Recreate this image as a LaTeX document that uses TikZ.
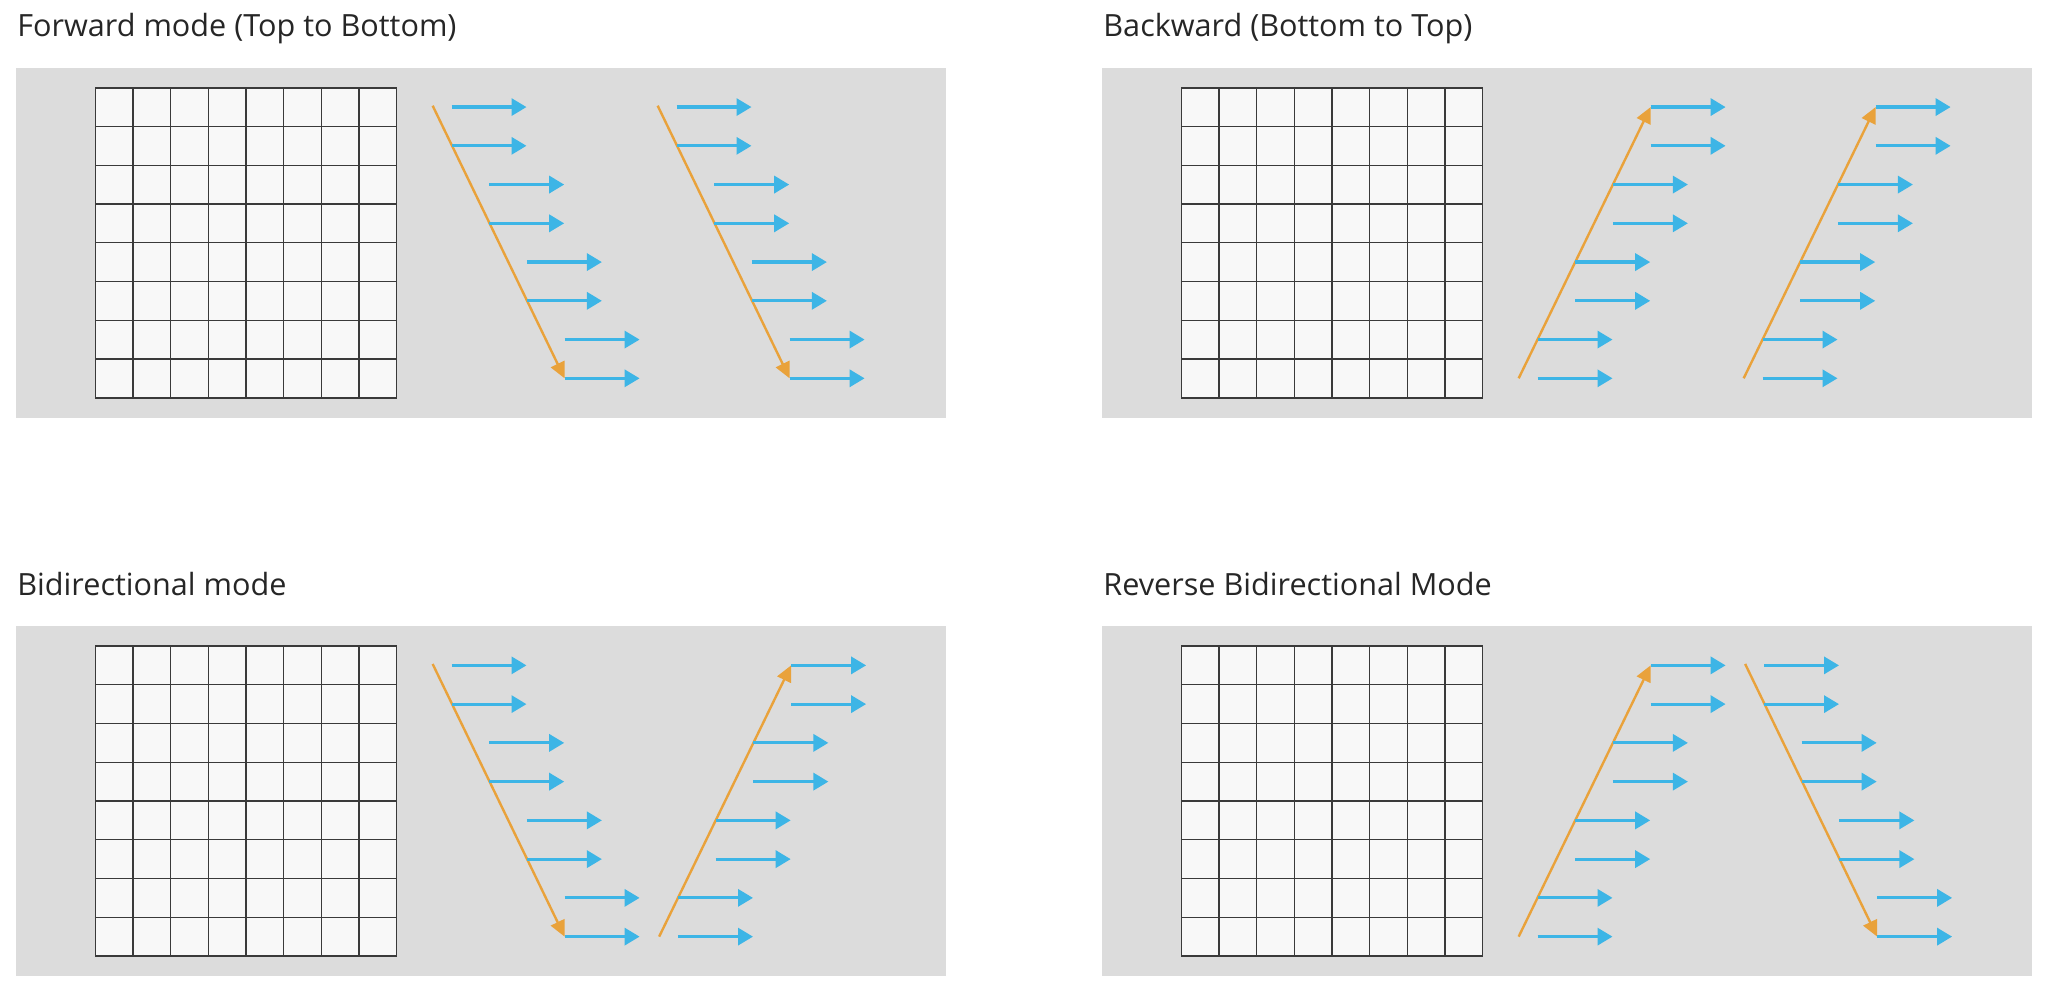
\documentclass[tikz,border=0pt]{standalone}
\usepackage{fontspec}
\setmainfont{Open Sans}
\usetikzlibrary{arrows.meta}
\definecolor{panelgray}{HTML}{DCDCDC}
\definecolor{cellfill}{HTML}{F8F8F8}
\definecolor{gridgray}{HTML}{3A3A3A}
\definecolor{rowblue}{HTML}{3DB5E6}
\definecolor{scanorange}{HTML}{E9A23B}

\tikzset{
  paneltitle/.style={anchor=base west, inner sep=0pt, text=black!85,
    font=\fontsize{15.3}{18}\selectfont},
  cellline/.style={draw=gridgray, line width=0.65pt},
  rowarrow/.style={draw=rowblue, line width=1.6pt, -{Triangle[length=7.5pt,width=8.5pt]}},
  scanarrow/.style={draw=scanorange, line width=1.2pt, -{Triangle[length=8pt,width=7.5pt]}},
}

% #1 x, #2 y, #3 name, #4 title
\newcommand{\modepanel}[4]{
  \fill[panelgray] (#1,#2) rectangle ++(930.5,350.3);
  \node[paneltitle] (#3-title) at (#1+1.5,#2-31) {#4};
  \fill[cellfill] (#1+80,#2+20) rectangle ++(301,310);
  \foreach \c in {1,...,7}
    \draw[cellline] ({#1+80+\c*37.625},#2+20) -- ++(0,310);
  \foreach \r in {1,...,7}
    \draw[cellline] (#1+80,{#2+20+\r*38.75}) -- ++(301,0);
  \draw[cellline, line width=0.9pt] (#1+80,#2+20) rectangle ++(301,310);
}

% #1 name, #2 base x, #3 panel y
\newcommand{\fwdcol}[3]{
  \coordinate (#1-s) at (#2-18.85,#3+38);
  \coordinate (#1-e) at ({#2+3*37.7},{#3+39.375+7*38.75});
  \draw[scanarrow] (#1-s) -- (#1-e);
  \foreach \p in {0,...,3}
    \foreach \q in {0,1}
      \draw[rowarrow] ({#2+\p*37.7},{#3+39.375+(2*\p+\q)*38.75}) -- ++(75,0);
}
\newcommand{\bwdcol}[3]{
  \coordinate (#1-s) at (#2-18.85,{#3+39.375+7*38.75});
  \coordinate (#1-e) at ({#2+3*37.7},#3+39.375);
  \draw[scanarrow] (#1-s) -- (#1-e);
  \foreach \p in {0,...,3}
    \foreach \q in {0,1}
      \draw[rowarrow] ({#2+(3-\p)*37.7},{#3+39.375+(2*\p+\q)*38.75}) -- ++(75,0);
}

\begin{document}
\begin{tikzpicture}[x=0.5pt,y=-0.5pt]
  \fill[white] (0,0) rectangle (2048,988);
  \useasboundingbox (0,0) rectangle (2048,988);

  \modepanel{15.5}{67.7}{fwd}{Forward mode (Top to Bottom)}
  \modepanel{1101.5}{67.7}{bwd}{Backward (Bottom to Top)}
  \modepanel{15.5}{626}{bidi}{Bidirectional mode}
  \modepanel{1101.5}{626}{rbidi}{Reverse Bidirectional Mode}

  \fwdcol{fwd-a}{451.5}{67.7}
  \fwdcol{fwd-b}{676.5}{67.7}
  \bwdcol{bwd-a}{1537.5}{67.7}
  \bwdcol{bwd-b}{1762.5}{67.7}
  \fwdcol{bidi-a}{451.5}{626}
  \bwdcol{bidi-b}{678}{626}
  \bwdcol{rbidi-a}{1537.5}{626}
  \fwdcol{rbidi-b}{1764}{626}
\end{tikzpicture}
\end{document}
